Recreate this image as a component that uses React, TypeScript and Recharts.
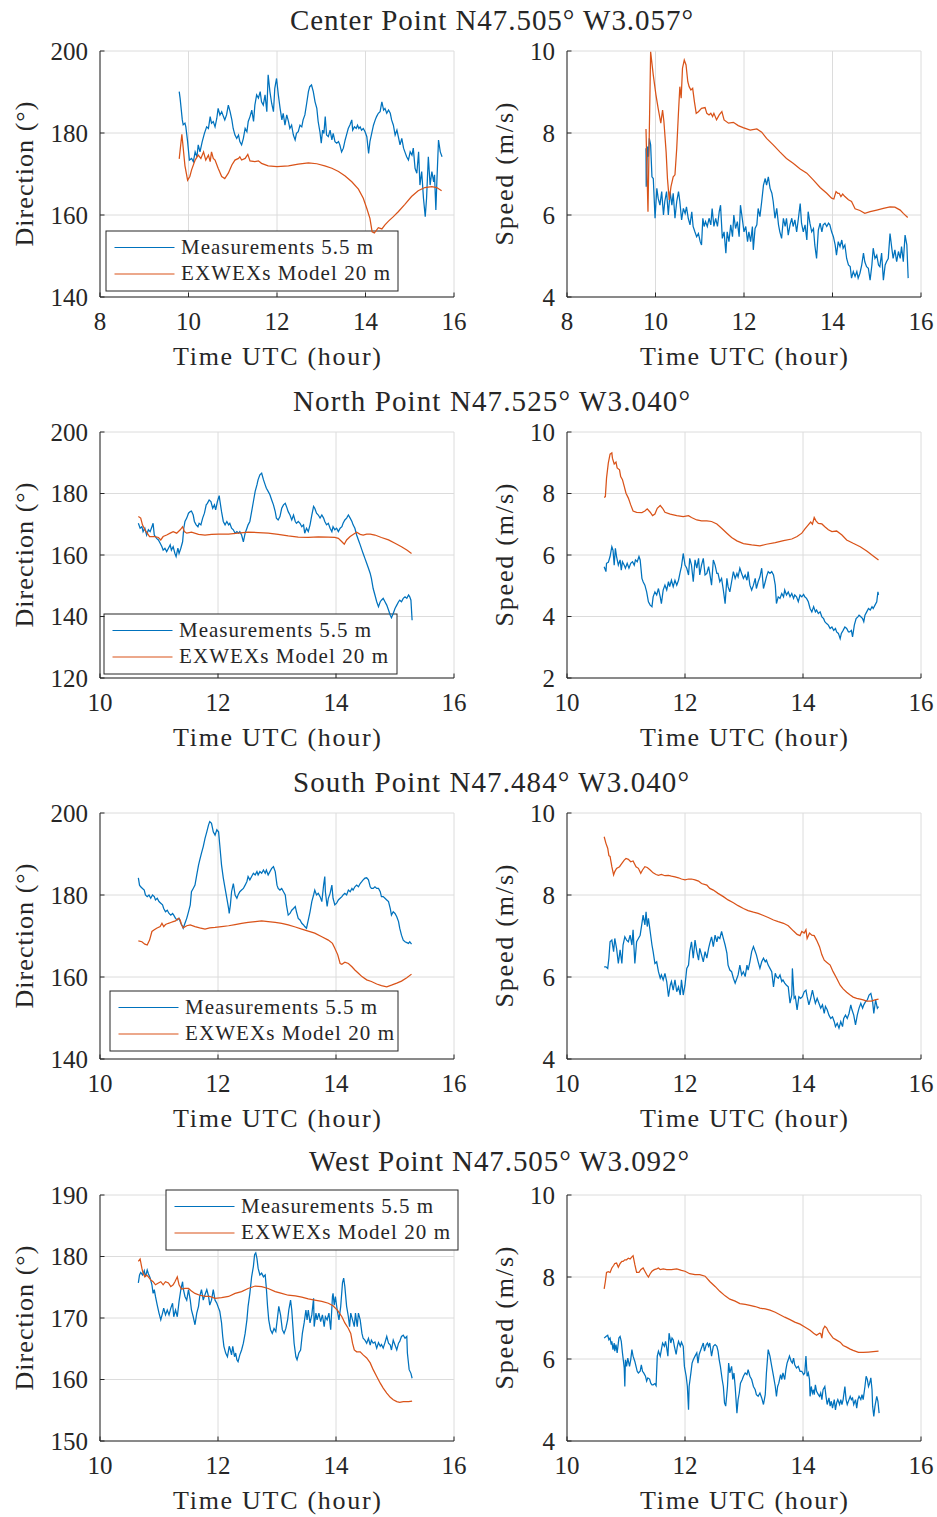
import React from 'react';
import { LineChart, Line, XAxis, YAxis, CartesianGrid, Customized } from 'recharts';

type P = [number, number];

const BLUE = '#0072BD';
const ORANGE = '#D95319';
const INK = '#262626';
const GRID = '#dcdcdc';
const FONT = 'Liberation Serif, DejaVu Serif, serif';

// ---------------- Tick values ----------------
const xTicksCenter = [8, 10, 12, 14, 16];
const xTicksOther = [10, 12, 14, 16];
const dirTicksCenter = [140, 160, 180, 200];
const dirTicksNorth = [120, 140, 160, 180, 200];
const dirTicksSouth = [140, 160, 180, 200];
const dirTicksWest = [150, 160, 170, 180, 190];
const spdTicksCenter = [4, 6, 8, 10];
const spdTicksNorth = [2, 4, 6, 8, 10];
const spdTicksSouth = [4, 6, 8, 10];
const spdTicksWest = [4, 6, 8, 10];

const titles = [
  'Center Point N47.505° W3.057°',
  'North Point N47.525° W3.040°',
  'South Point N47.484° W3.040°',
  'West Point N47.505° W3.092°',
];
const legendLabels = ['Measurements 5.5 m', 'EXWEXs Model 20 m'];
const xLabel = 'Time UTC (hour)';
const dirLabel = 'Direction (°)';
const spdLabel = 'Speed (m/s)';

// ---------------- Center point ----------------
const centerDirMeas: P[] = [[9.79,190.1],[9.81,188.5],[9.86,183.2],[9.88,182.0],[9.92,182.4],[9.94,181.5],[9.98,177.9],[10.02,173.4],[10.07,173.8],[10.11,173.0],[10.15,175.4],[10.19,174.2],[10.22,177.1],[10.26,175.4],[10.31,177.9],[10.36,179.9],[10.41,181.5],[10.45,181.1],[10.49,184.0],[10.52,182.4],[10.56,182.8],[10.60,181.5],[10.64,183.6],[10.67,186.0],[10.71,184.4],[10.75,185.2],[10.79,184.0],[10.82,183.2],[10.86,184.4],[10.90,186.8],[10.94,185.2],[10.98,183.2],[11.01,181.1],[11.05,179.5],[11.09,178.7],[11.13,179.5],[11.16,177.9],[11.20,177.1],[11.24,178.7],[11.28,181.1],[11.32,180.3],[11.35,182.8],[11.39,184.0],[11.43,185.6],[11.47,182.8],[11.50,186.8],[11.54,189.3],[11.58,188.5],[11.62,190.1],[11.65,187.6],[11.69,186.8],[11.73,189.3],[11.77,185.2],[11.80,194.2],[11.84,190.1],[11.88,187.2],[11.92,185.2],[11.95,190.9],[11.99,193.3],[12.03,189.3],[12.07,186.0],[12.11,183.2],[12.14,184.8],[12.18,181.9],[12.22,184.4],[12.26,182.8],[12.29,181.1],[12.33,181.9],[12.37,179.5],[12.41,178.3],[12.44,179.9],[12.48,180.3],[12.52,181.9],[12.56,181.5],[12.59,183.2],[12.63,184.4],[12.67,187.2],[12.71,190.1],[12.74,191.3],[12.78,191.7],[12.82,190.1],[12.86,187.6],[12.90,186.0],[12.93,182.8],[12.97,180.3],[13.00,177.5],[13.03,180.7],[13.06,179.9],[13.09,184.0],[13.12,179.5],[13.16,179.1],[13.20,180.7],[13.24,178.3],[13.27,179.9],[13.31,177.9],[13.35,177.5],[13.39,177.9],[13.42,177.1],[13.46,175.4],[13.50,176.3],[13.54,178.3],[13.57,179.5],[13.61,181.1],[13.65,182.0],[13.69,183.2],[13.71,180.7],[13.75,181.5],[13.79,181.1],[13.82,181.9],[13.85,181.1],[13.88,181.5],[13.91,180.7],[13.95,181.1],[13.99,180.3],[14.03,179.1],[14.07,175.0],[14.10,177.9],[14.14,179.9],[14.18,181.9],[14.22,183.2],[14.25,184.0],[14.29,184.8],[14.33,185.2],[14.37,187.6],[14.41,185.6],[14.44,186.0],[14.48,184.8],[14.52,185.6],[14.56,184.8],[14.59,183.2],[14.63,181.9],[14.67,179.5],[14.71,180.7],[14.75,178.7],[14.78,177.1],[14.82,178.7],[14.86,176.3],[14.89,175.4],[14.93,174.2],[14.97,173.4],[15.01,175.4],[15.05,174.6],[15.08,176.3],[15.12,171.4],[15.16,170.2],[15.20,175.4],[15.23,167.3],[15.27,170.6],[15.31,164.1],[15.35,159.6],[15.38,164.1],[15.42,174.2],[15.46,167.3],[15.50,170.6],[15.54,168.1],[15.56,169.8],[15.59,161.2],[15.61,167.3],[15.65,178.3],[15.69,175.4],[15.73,174.2]];

const centerDirModel: P[] = [[9.79,173.7],[9.85,179.7],[9.92,172.0],[9.98,168.5],[10.03,169.4],[10.07,171.0],[10.15,173.4],[10.22,174.6],[10.28,173.8],[10.34,175.4],[10.39,173.4],[10.45,174.6],[10.49,173.0],[10.52,175.4],[10.56,173.8],[10.60,173.4],[10.67,171.4],[10.75,169.4],[10.82,168.9],[10.90,170.2],[10.98,172.2],[11.05,173.4],[11.13,173.8],[11.16,174.2],[11.20,173.4],[11.28,173.8],[11.34,174.8],[11.39,173.2],[11.50,173.0],[11.58,173.2],[11.65,172.6],[11.80,172.0],[12.00,171.8],[12.26,172.0],[12.48,172.4],[12.71,172.7],[12.90,172.5],[13.08,172.0],[13.24,171.4],[13.39,170.6],[13.54,169.5],[13.69,168.1],[13.84,166.3],[13.95,164.1],[14.03,161.6],[14.10,159.2],[14.15,155.9],[14.20,155.6],[14.29,156.9],[14.37,156.6],[14.44,157.6],[14.52,158.5],[14.63,159.6],[14.74,160.8],[14.89,162.6],[15.04,164.5],[15.19,165.9],[15.34,166.7],[15.50,166.9],[15.61,166.7],[15.72,165.9]];

const centerSpdMeas: P[] = [[9.785,7.63],[9.79,6.69],[9.82,7.67],[9.84,7.42],[9.86,7.87],[9.89,7.71],[9.92,6.93],[9.95,6.89],[9.99,5.92],[10.03,6.65],[10.06,6.41],[10.10,6.24],[10.14,6.57],[10.18,6.00],[10.21,6.33],[10.25,6.57],[10.29,6.00],[10.33,6.57],[10.37,6.24],[10.40,6.53],[10.44,5.92],[10.48,6.33],[10.52,6.57],[10.55,6.33],[10.59,5.88],[10.63,6.16],[10.67,6.04],[10.70,6.20],[10.74,5.92],[10.78,5.76],[10.82,6.08],[10.85,5.72],[10.89,5.59],[10.93,5.47],[10.97,5.55],[11.01,5.35],[11.04,5.27],[11.07,5.92],[11.10,5.72],[11.13,5.84],[11.17,5.72],[11.21,5.92],[11.25,5.76],[11.28,6.16],[11.32,5.72],[11.36,5.92],[11.40,5.72],[11.44,6.08],[11.47,6.24],[11.51,5.43],[11.55,5.59],[11.59,5.07],[11.62,5.59],[11.66,5.35],[11.70,5.76],[11.74,5.47],[11.77,6.00],[11.81,5.67],[11.85,5.84],[11.89,5.47],[11.92,6.24],[11.96,5.92],[12.00,5.59],[12.04,5.72],[12.08,5.35],[12.11,5.59],[12.15,5.35],[12.19,5.72],[12.21,5.15],[12.25,5.67],[12.29,5.76],[12.32,6.16],[12.36,5.96],[12.40,6.33],[12.44,6.73],[12.48,6.89],[12.51,6.73],[12.55,6.93],[12.59,6.65],[12.63,6.53],[12.66,6.33],[12.70,5.92],[12.74,6.16],[12.78,5.76],[12.81,5.59],[12.85,5.43],[12.89,5.92],[12.93,5.72],[12.96,5.92],[13.00,5.51],[13.04,5.76],[13.08,5.92],[13.11,5.72],[13.15,5.88],[13.19,5.59],[13.23,5.92],[13.27,6.28],[13.30,5.80],[13.34,5.59],[13.38,5.76],[13.42,5.39],[13.45,6.08],[13.49,5.80],[13.53,5.59],[13.57,5.67],[13.60,5.27],[13.64,4.94],[13.68,5.63],[13.72,5.80],[13.76,5.59],[13.79,5.76],[13.83,5.80],[13.87,5.72],[13.91,5.80],[13.94,5.76],[13.98,5.59],[14.02,5.47],[14.06,5.27],[14.09,5.02],[14.13,5.35],[14.17,5.23],[14.21,5.39],[14.24,5.19],[14.28,5.27],[14.32,4.94],[14.36,4.78],[14.40,4.74],[14.43,4.46],[14.47,4.62],[14.51,4.50],[14.55,4.62],[14.58,4.46],[14.62,4.58],[14.66,4.78],[14.70,5.07],[14.73,4.86],[14.77,4.74],[14.81,4.70],[14.85,4.41],[14.89,4.78],[14.92,5.19],[14.96,4.94],[15.00,5.02],[15.04,4.78],[15.07,4.74],[15.11,5.07],[15.15,4.41],[15.19,4.78],[15.22,4.86],[15.26,4.94],[15.30,5.55],[15.34,5.19],[15.37,4.94],[15.41,5.15],[15.45,4.86],[15.49,5.11],[15.53,4.94],[15.56,5.23],[15.60,4.86],[15.64,5.51],[15.68,5.27],[15.71,4.46]];

const centerSpdModel: P[] = [[9.785,8.10],[9.83,6.08],[9.89,9.98],[9.95,9.41],[10.01,8.93],[10.06,8.60],[10.12,8.24],[10.16,8.56],[10.19,8.28],[10.24,7.54],[10.27,6.89],[10.31,6.37],[10.35,6.69],[10.40,6.93],[10.44,6.98],[10.48,7.63],[10.52,8.52],[10.55,9.13],[10.58,8.85],[10.61,9.58],[10.65,9.78],[10.69,9.66],[10.73,9.25],[10.76,9.13],[10.80,9.05],[10.84,9.09],[10.88,8.76],[10.92,8.48],[10.97,8.52],[11.04,8.60],[11.12,8.62],[11.16,8.48],[11.21,8.44],[11.25,8.48],[11.29,8.40],[11.32,8.48],[11.38,8.32],[11.44,8.44],[11.50,8.52],[11.55,8.32],[11.65,8.24],[11.76,8.26],[11.87,8.18],[11.98,8.13],[12.14,8.07],[12.29,8.10],[12.40,8.02],[12.51,7.87],[12.66,7.71],[12.81,7.54],[12.96,7.38],[13.11,7.26],[13.27,7.12],[13.42,7.02],[13.57,6.85],[13.72,6.67],[13.87,6.53],[13.98,6.41],[14.03,6.39],[14.08,6.57],[14.12,6.53],[14.15,6.53],[14.19,6.45],[14.23,6.51],[14.28,6.45],[14.36,6.37],[14.43,6.33],[14.51,6.15],[14.62,6.11],[14.73,6.04],[14.85,6.08],[15.00,6.12],[15.15,6.16],[15.30,6.20],[15.41,6.19],[15.53,6.12],[15.60,6.04],[15.70,5.94]];

// ---------------- North point ----------------
const northDirMeas: P[] = [[10.65,170.3],[10.68,168.7],[10.71,169.2],[10.73,167.6],[10.76,168.7],[10.79,166.5],[10.82,168.2],[10.85,167.6],[10.88,169.2],[10.90,170.3],[10.92,166.5],[10.96,165.4],[10.99,164.9],[11.02,163.8],[11.05,162.7],[11.07,161.6],[11.10,162.2],[11.13,161.1],[11.16,162.2],[11.19,163.3],[11.21,161.6],[11.24,162.7],[11.27,160.5],[11.29,159.5],[11.32,162.2],[11.34,160.5],[11.37,162.2],[11.40,164.3],[11.42,168.7],[11.44,170.9],[11.47,172.0],[11.50,173.6],[11.53,174.1],[11.55,174.3],[11.58,173.0],[11.60,170.9],[11.63,169.8],[11.66,169.2],[11.68,170.3],[11.71,169.8],[11.74,172.0],[11.77,173.6],[11.80,176.3],[11.82,176.8],[11.85,177.9],[11.88,177.4],[11.91,175.2],[11.94,176.3],[11.96,174.7],[11.99,177.4],[12.02,179.3],[12.03,177.9],[12.06,174.1],[12.09,170.9],[12.12,169.8],[12.15,170.9],[12.18,169.8],[12.20,170.3],[12.23,168.7],[12.26,168.2],[12.29,167.1],[12.32,167.6],[12.35,167.1],[12.37,167.6],[12.40,166.5],[12.43,164.3],[12.46,167.1],[12.49,168.7],[12.51,169.8],[12.54,170.9],[12.57,174.1],[12.60,177.4],[12.63,180.7],[12.66,182.8],[12.68,184.5],[12.71,186.1],[12.74,186.6],[12.77,184.5],[12.80,182.8],[12.82,181.7],[12.85,180.7],[12.88,179.6],[12.91,177.9],[12.94,176.3],[12.97,174.1],[12.99,172.0],[13.02,171.4],[13.05,172.5],[13.08,175.2],[13.11,176.3],[13.14,176.8],[13.16,175.8],[13.19,174.1],[13.22,173.0],[13.25,171.4],[13.28,173.0],[13.31,170.9],[13.33,170.3],[13.36,170.9],[13.39,170.3],[13.42,169.2],[13.45,169.8],[13.47,167.1],[13.50,168.7],[13.53,167.6],[13.56,169.8],[13.59,173.0],[13.62,175.8],[13.64,175.2],[13.67,173.6],[13.70,173.0],[13.73,172.0],[13.76,173.0],[13.79,172.0],[13.81,170.9],[13.84,169.8],[13.87,170.3],[13.90,168.7],[13.93,167.6],[13.95,169.2],[13.98,168.2],[14.01,168.7],[14.04,167.6],[14.07,168.7],[14.10,169.2],[14.12,170.3],[14.15,171.4],[14.18,172.0],[14.21,173.0],[14.24,172.0],[14.27,170.9],[14.29,169.8],[14.32,168.7],[14.35,166.5],[14.38,164.9],[14.41,163.3],[14.44,161.6],[14.46,160.5],[14.49,158.9],[14.52,157.3],[14.55,155.7],[14.58,154.0],[14.60,152.4],[14.63,149.1],[14.66,147.0],[14.69,144.8],[14.72,143.2],[14.75,144.8],[14.77,145.3],[14.80,145.9],[14.83,144.8],[14.86,143.7],[14.89,142.1],[14.92,140.4],[14.94,139.6],[14.97,141.0],[15.00,142.6],[15.03,143.7],[15.06,144.8],[15.08,145.3],[15.11,144.8],[15.14,145.9],[15.17,146.4],[15.20,145.9],[15.23,147.0],[15.25,146.4],[15.27,145.3],[15.29,138.8]];

const northDirModel: P[] = [[10.65,172.5],[10.69,172.0],[10.72,169.8],[10.76,168.2],[10.80,167.1],[10.84,166.0],[10.88,166.0],[10.93,166.0],[10.99,165.7],[11.03,164.9],[11.07,166.0],[11.13,166.5],[11.19,167.1],[11.24,167.6],[11.30,167.1],[11.36,168.2],[11.40,169.2],[11.43,167.6],[11.47,167.1],[11.55,167.4],[11.67,166.7],[11.78,166.5],[11.89,166.7],[12.01,166.8],[12.18,166.8],[12.34,167.1],[12.51,167.4],[12.68,167.3],[12.85,167.1],[13.02,166.7],[13.19,166.2],[13.36,165.8],[13.53,165.7],[13.70,165.9],[13.87,165.8],[13.98,165.7],[14.04,165.4],[14.10,164.3],[14.14,163.5],[14.18,164.9],[14.24,166.0],[14.29,166.7],[14.35,167.4],[14.41,166.7],[14.46,166.5],[14.52,166.8],[14.58,166.8],[14.66,166.5],[14.77,165.7],[14.89,164.9],[15.00,163.8],[15.11,162.7],[15.20,161.6],[15.28,160.5]];

const northSpdMeas: P[] = [[10.63,5.62],[10.66,5.46],[10.67,5.73],[10.70,5.76],[10.73,5.95],[10.76,6.27],[10.78,6.16],[10.80,5.67],[10.82,6.22],[10.84,5.95],[10.87,5.67],[10.90,5.84],[10.92,5.51],[10.94,5.78],[10.97,5.67],[10.99,5.57],[11.02,5.73],[11.05,5.57],[11.08,5.73],[11.11,5.78],[11.14,5.67],[11.16,5.84],[11.19,5.78],[11.22,5.95],[11.24,5.84],[11.27,5.24],[11.29,5.13],[11.32,5.02],[11.35,4.80],[11.38,4.48],[11.41,4.37],[11.44,4.32],[11.46,4.64],[11.49,4.80],[11.52,4.70],[11.55,4.91],[11.58,4.64],[11.60,4.42],[11.63,4.86],[11.66,5.02],[11.69,4.86],[11.72,5.13],[11.74,4.97],[11.77,5.18],[11.80,4.97],[11.83,5.18],[11.86,5.02],[11.89,5.18],[11.92,5.46],[11.94,5.62],[11.97,6.05],[12.00,5.67],[12.03,5.57],[12.06,5.35],[12.08,5.89],[12.11,5.67],[12.14,5.13],[12.17,5.84],[12.20,5.57],[12.23,5.89],[12.25,5.35],[12.28,5.67],[12.31,5.89],[12.34,5.35],[12.37,5.40],[12.40,5.62],[12.42,5.40],[12.45,5.02],[12.48,5.84],[12.51,5.67],[12.54,5.40],[12.56,5.40],[12.59,5.13],[12.62,5.24],[12.65,4.86],[12.68,4.42],[12.71,5.24],[12.73,4.97],[12.76,4.80],[12.79,5.13],[12.82,5.46],[12.85,5.24],[12.88,5.40],[12.90,5.29],[12.93,5.57],[12.96,5.40],[12.99,5.24],[13.02,5.35],[13.05,5.18],[13.07,5.46],[13.10,5.02],[13.13,4.86],[13.16,5.02],[13.19,5.24],[13.21,4.91],[13.24,5.13],[13.27,5.29],[13.30,5.57],[13.33,4.91],[13.36,5.13],[13.38,5.29],[13.41,5.46],[13.44,5.40],[13.47,5.46],[13.50,5.35],[13.53,5.02],[13.55,4.42],[13.58,4.64],[13.61,4.59],[13.64,4.75],[13.67,4.64],[13.69,4.86],[13.72,4.70],[13.75,4.80],[13.78,4.64],[13.81,4.75],[13.84,4.59],[13.86,4.70],[13.89,4.64],[13.92,4.48],[13.95,4.70],[13.98,4.64],[14.01,4.72],[14.03,4.64],[14.06,4.59],[14.09,4.48],[14.12,4.26],[14.15,4.15],[14.18,4.32],[14.21,4.15],[14.23,4.21],[14.26,4.10],[14.29,4.15],[14.32,3.99],[14.35,3.93],[14.37,3.83],[14.40,3.77],[14.43,3.72],[14.46,3.61],[14.49,3.66],[14.52,3.55],[14.55,3.61],[14.57,3.50],[14.60,3.45],[14.63,3.28],[14.65,3.45],[14.68,3.55],[14.71,3.66],[14.74,3.61],[14.77,3.50],[14.79,3.50],[14.82,3.55],[14.84,3.34],[14.87,3.72],[14.90,3.93],[14.93,3.99],[14.95,4.04],[14.98,3.99],[15.01,3.93],[15.03,3.83],[15.05,4.04],[15.08,4.15],[15.11,4.26],[15.14,4.21],[15.17,4.32],[15.19,4.26],[15.22,4.37],[15.25,4.48],[15.27,4.80],[15.28,4.70]];

const northSpdModel: P[] = [[10.63,7.87],[10.65,7.90],[10.67,8.50],[10.70,8.99],[10.73,9.28],[10.76,9.32],[10.77,9.15],[10.80,8.96],[10.83,9.02],[10.85,8.83],[10.89,8.77],[10.91,8.55],[10.94,8.45],[10.97,8.23],[11.00,8.01],[11.04,7.85],[11.08,7.63],[11.12,7.43],[11.18,7.39],[11.27,7.38],[11.32,7.43],[11.36,7.50],[11.41,7.39],[11.45,7.28],[11.49,7.33],[11.53,7.52],[11.58,7.61],[11.62,7.52],[11.66,7.39],[11.75,7.33],[11.86,7.28],[11.97,7.25],[12.06,7.28],[12.11,7.22],[12.20,7.14],[12.28,7.11],[12.37,7.11],[12.45,7.09],[12.54,7.01],[12.62,6.87],[12.71,6.71],[12.79,6.57],[12.88,6.46],[12.99,6.37],[13.13,6.33],[13.27,6.30],[13.38,6.35],[13.53,6.40],[13.67,6.47],[13.81,6.52],[13.90,6.60],[13.98,6.71],[14.03,6.84],[14.09,6.98],[14.13,7.07],[14.16,7.00],[14.19,7.22],[14.22,7.11],[14.26,7.03],[14.32,7.01],[14.37,6.92],[14.43,6.82],[14.49,6.76],[14.57,6.78],[14.66,6.65],[14.74,6.49],[14.85,6.38],[14.97,6.27],[15.08,6.13],[15.19,5.97],[15.28,5.84]];

// ---------------- South point ----------------
const southDirMeas: P[] = [[10.65,184.2],[10.67,182.4],[10.69,182.0],[10.72,181.6],[10.75,181.2],[10.77,180.0],[10.80,179.6],[10.83,180.0],[10.86,179.2],[10.89,180.0],[10.92,179.6],[10.94,178.8],[10.97,179.2],[11.00,178.4],[11.03,178.0],[11.06,177.6],[11.08,176.7],[11.11,175.9],[11.14,176.3],[11.17,175.5],[11.20,175.1],[11.23,175.5],[11.25,175.1],[11.28,174.3],[11.31,173.9],[11.34,174.3],[11.37,173.1],[11.40,172.3],[11.41,171.9],[11.44,173.1],[11.47,174.3],[11.50,175.9],[11.53,177.6],[11.55,180.8],[11.58,181.6],[11.61,182.4],[11.64,184.9],[11.67,187.3],[11.69,188.5],[11.72,190.2],[11.75,191.8],[11.78,193.8],[11.81,195.4],[11.84,197.1],[11.86,197.9],[11.89,197.5],[11.92,195.4],[11.95,194.6],[11.98,195.9],[12.01,195.4],[12.03,192.2],[12.06,187.3],[12.09,184.1],[12.12,181.6],[12.15,179.2],[12.18,176.7],[12.19,175.5],[12.21,177.6],[12.23,180.8],[12.26,182.8],[12.29,180.0],[12.32,179.2],[12.34,180.0],[12.37,180.8],[12.40,181.2],[12.43,181.6],[12.46,182.4],[12.49,183.3],[12.51,184.5],[12.54,183.7],[12.57,184.5],[12.60,185.3],[12.63,184.9],[12.66,185.7],[12.68,184.9],[12.71,185.7],[12.74,185.3],[12.77,186.1],[12.80,185.3],[12.82,186.1],[12.85,184.9],[12.88,185.7],[12.91,186.5],[12.94,186.9],[12.97,185.7],[13.00,182.4],[13.02,181.6],[13.05,181.2],[13.08,181.6],[13.11,180.8],[13.14,180.0],[13.16,177.6],[13.19,175.1],[13.22,175.5],[13.25,176.3],[13.28,176.7],[13.31,177.2],[13.33,175.9],[13.36,174.3],[13.39,173.9],[13.42,173.1],[13.45,172.7],[13.47,172.3],[13.50,171.9],[13.53,173.9],[13.56,175.9],[13.59,178.4],[13.62,180.0],[13.64,181.2],[13.67,180.0],[13.70,180.4],[13.73,179.6],[13.76,178.4],[13.79,182.4],[13.81,184.5],[13.82,180.8],[13.85,177.2],[13.87,179.2],[13.90,180.4],[13.93,182.4],[13.95,179.2],[13.98,177.6],[14.01,178.0],[14.04,178.8],[14.07,179.2],[14.10,179.6],[14.12,180.0],[14.15,180.4],[14.18,180.0],[14.21,181.2],[14.24,180.8],[14.27,181.6],[14.29,181.2],[14.32,182.0],[14.35,182.4],[14.38,182.0],[14.41,182.8],[14.44,183.3],[14.46,183.7],[14.49,184.1],[14.52,184.2],[14.55,183.7],[14.58,182.0],[14.60,181.6],[14.63,181.6],[14.66,182.0],[14.69,181.6],[14.72,181.6],[14.75,180.8],[14.77,179.6],[14.80,179.6],[14.83,179.2],[14.86,178.8],[14.89,178.4],[14.92,176.7],[14.94,175.1],[14.97,175.9],[15.00,175.5],[15.03,174.7],[15.06,173.5],[15.08,171.9],[15.11,170.2],[15.14,169.0],[15.17,168.6],[15.20,168.4],[15.23,168.2],[15.25,168.6],[15.28,168.0]];

const southDirModel: P[] = [[10.65,168.8],[10.71,168.6],[10.76,168.0],[10.80,167.8],[10.84,169.0],[10.88,171.1],[10.92,171.5],[10.96,171.9],[11.02,172.3],[11.05,173.1],[11.08,172.3],[11.11,172.8],[11.16,173.1],[11.20,173.3],[11.24,173.5],[11.28,173.7],[11.33,174.3],[11.36,173.9],[11.38,172.8],[11.41,172.0],[11.47,172.5],[11.53,172.7],[11.61,172.3],[11.69,172.0],[11.78,171.7],[11.86,172.0],[11.95,172.1],[12.06,172.3],[12.18,172.5],[12.29,172.8],[12.40,173.1],[12.51,173.3],[12.63,173.5],[12.74,173.7],[12.85,173.5],[12.97,173.3],[13.08,173.1],[13.19,172.7],[13.31,172.2],[13.42,171.7],[13.53,171.2],[13.64,170.7],[13.76,169.8],[13.87,169.0],[13.94,168.2],[13.98,167.0],[14.03,165.4],[14.07,163.3],[14.10,163.1],[14.15,163.6],[14.21,163.3],[14.27,162.5],[14.32,161.7],[14.38,160.9],[14.44,160.1],[14.52,159.3],[14.60,158.9],[14.69,158.3],[14.77,157.9],[14.86,157.6],[14.94,158.0],[15.03,158.5],[15.11,159.0],[15.20,159.8],[15.28,160.7]];

const southSpdMeas: P[] = [[10.63,6.25],[10.66,6.25],[10.69,6.21],[10.71,6.46],[10.73,6.86],[10.76,6.90],[10.79,6.62],[10.81,6.94],[10.84,6.70],[10.87,6.33],[10.90,6.66],[10.93,6.33],[10.95,6.78],[10.98,6.98],[11.01,6.90],[11.04,6.86],[11.07,7.02],[11.10,6.78],[11.12,7.15],[11.15,6.33],[11.18,6.86],[11.21,6.94],[11.24,7.02],[11.27,7.31],[11.29,7.51],[11.32,7.27],[11.34,7.59],[11.36,7.23],[11.38,7.43],[11.41,7.11],[11.44,6.78],[11.46,6.62],[11.49,6.33],[11.52,6.37],[11.55,6.13],[11.58,5.97],[11.60,6.05],[11.63,5.93],[11.66,6.09],[11.69,5.89],[11.72,5.52],[11.75,5.80],[11.77,5.89],[11.80,5.68],[11.83,5.93],[11.86,5.64],[11.89,5.76],[11.92,5.56],[11.94,5.93],[11.97,5.56],[12.00,5.80],[12.03,6.21],[12.06,6.29],[12.08,6.62],[12.11,6.86],[12.14,6.46],[12.17,6.90],[12.20,6.62],[12.23,6.41],[12.25,6.70],[12.28,6.54],[12.31,6.37],[12.34,6.62],[12.37,6.46],[12.40,6.70],[12.42,6.82],[12.45,6.98],[12.48,6.74],[12.51,7.02],[12.54,6.86],[12.56,6.98],[12.59,6.94],[12.62,7.11],[12.65,6.94],[12.68,6.78],[12.71,6.58],[12.73,6.29],[12.76,6.17],[12.79,6.13],[12.82,5.97],[12.85,5.85],[12.88,5.97],[12.90,6.05],[12.93,6.29],[12.96,6.05],[12.99,6.13],[13.02,6.01],[13.05,6.29],[13.07,6.17],[13.10,6.37],[13.13,6.62],[13.16,6.74],[13.19,6.62],[13.21,6.54],[13.24,6.37],[13.27,6.21],[13.30,6.37],[13.33,6.46],[13.36,6.37],[13.38,6.41],[13.41,6.29],[13.44,6.21],[13.47,6.13],[13.50,5.76],[13.53,6.09],[13.55,6.01],[13.58,5.97],[13.61,6.05],[13.64,5.89],[13.66,5.93],[13.69,5.85],[13.72,5.80],[13.75,5.76],[13.78,5.36],[13.81,5.56],[13.82,6.21],[13.85,5.48],[13.87,5.52],[13.90,5.20],[13.93,5.52],[13.96,5.48],[13.99,5.52],[14.02,5.64],[14.05,5.68],[14.07,5.52],[14.10,5.32],[14.13,5.48],[14.16,5.68],[14.19,5.48],[14.21,5.36],[14.24,5.48],[14.27,5.36],[14.30,5.24],[14.33,5.32],[14.36,5.11],[14.38,5.28],[14.41,5.20],[14.44,5.07],[14.47,4.99],[14.50,5.03],[14.53,4.91],[14.55,4.79],[14.58,4.87],[14.61,4.75],[14.64,4.91],[14.67,4.79],[14.69,4.99],[14.72,5.07],[14.75,4.99],[14.78,5.11],[14.81,5.32],[14.83,5.20],[14.86,5.07],[14.89,4.83],[14.92,5.07],[14.95,5.24],[14.98,5.36],[15.01,5.24],[15.03,5.32],[15.06,5.40],[15.09,5.44],[15.12,5.56],[15.15,5.60],[15.18,5.40],[15.20,5.11],[15.23,5.44],[15.26,5.24],[15.28,5.28]];

const southSpdModel: P[] = [[10.63,9.42],[10.66,9.26],[10.69,9.14],[10.71,8.96],[10.73,8.94],[10.76,8.69],[10.79,8.49],[10.81,8.57],[10.84,8.65],[10.89,8.69],[10.93,8.77],[10.97,8.85],[11.00,8.89],[11.04,8.87],[11.08,8.81],[11.12,8.83],[11.17,8.69],[11.21,8.65],[11.25,8.53],[11.28,8.61],[11.32,8.69],[11.36,8.67],[11.41,8.61],[11.46,8.54],[11.51,8.50],[11.55,8.48],[11.60,8.50],[11.66,8.47],[11.72,8.48],[11.77,8.46],[11.83,8.44],[11.89,8.42],[11.94,8.39],[12.00,8.37],[12.06,8.39],[12.11,8.39],[12.17,8.37],[12.23,8.34],[12.28,8.28],[12.37,8.24],[12.42,8.16],[12.48,8.12],[12.56,8.04],[12.65,7.96],[12.73,7.88],[12.82,7.81],[12.90,7.74],[12.99,7.67],[13.07,7.62],[13.16,7.58],[13.24,7.55],[13.33,7.50],[13.41,7.45],[13.50,7.39],[13.58,7.35],[13.67,7.31],[13.75,7.25],[13.84,7.12],[13.90,7.04],[13.95,7.01],[13.98,7.11],[14.02,7.07],[14.05,7.15],[14.07,6.94],[14.11,7.07],[14.15,7.02],[14.19,7.01],[14.23,6.90],[14.28,6.74],[14.32,6.54],[14.36,6.41],[14.40,6.36],[14.46,6.29],[14.51,6.13],[14.57,5.97],[14.63,5.80],[14.68,5.71],[14.74,5.63],[14.80,5.56],[14.85,5.51],[14.91,5.48],[14.97,5.46],[15.02,5.44],[15.08,5.41],[15.16,5.41],[15.22,5.44],[15.28,5.46]];

// ---------------- West point ----------------
const westDirMeas: P[] = [[10.65,175.7],[10.67,177.0],[10.69,177.4],[10.72,177.0],[10.75,177.7],[10.77,176.7],[10.80,177.8],[10.82,177.2],[10.85,176.5],[10.88,175.4],[10.90,174.0],[10.92,174.6],[10.94,173.5],[10.97,172.1],[11.00,170.8],[11.03,169.7],[11.06,170.8],[11.08,171.6],[11.11,170.5],[11.14,171.3],[11.17,170.5],[11.20,171.6],[11.23,172.4],[11.25,170.2],[11.28,171.3],[11.31,170.2],[11.34,172.7],[11.37,174.6],[11.40,175.9],[11.41,174.8],[11.44,173.5],[11.47,172.9],[11.50,174.6],[11.53,172.9],[11.55,171.3],[11.58,170.2],[11.61,168.9],[11.64,170.8],[11.67,171.9],[11.69,173.5],[11.72,174.6],[11.75,172.9],[11.78,173.8],[11.81,174.6],[11.84,173.5],[11.86,172.1],[11.89,172.9],[11.92,174.6],[11.95,172.9],[11.98,172.4],[12.01,171.6],[12.03,171.1],[12.06,169.2],[12.08,167.0],[12.10,165.4],[12.13,164.3],[12.16,163.7],[12.19,165.4],[12.21,164.8],[12.23,164.0],[12.25,165.4],[12.28,163.7],[12.30,164.3],[12.32,163.2],[12.34,162.9],[12.37,164.0],[12.40,164.8],[12.43,165.9],[12.46,167.5],[12.49,169.7],[12.51,171.9],[12.54,174.0],[12.57,176.7],[12.60,178.4],[12.62,180.3],[12.64,180.6],[12.66,179.7],[12.68,178.1],[12.71,177.0],[12.74,177.3],[12.77,176.7],[12.80,177.0],[12.82,174.8],[12.84,171.9],[12.86,169.7],[12.89,168.1],[12.92,167.5],[12.95,168.3],[12.98,167.8],[13.01,170.2],[13.03,171.9],[13.06,170.5],[13.09,168.1],[13.12,167.5],[13.15,168.3],[13.18,169.7],[13.20,171.3],[13.23,172.9],[13.25,171.3],[13.27,168.6],[13.29,165.9],[13.32,163.7],[13.34,163.2],[13.37,164.3],[13.40,164.8],[13.43,167.5],[13.46,169.2],[13.49,171.3],[13.51,169.7],[13.53,171.3],[13.56,169.2],[13.59,170.5],[13.62,173.2],[13.63,168.6],[13.66,170.8],[13.68,169.7],[13.71,170.8],[13.74,169.4],[13.77,170.5],[13.80,168.6],[13.82,170.2],[13.85,169.7],[13.88,170.8],[13.91,168.1],[13.94,173.5],[13.95,174.0],[13.97,172.1],[13.99,173.5],[14.02,171.3],[14.05,169.7],[14.08,171.9],[14.11,175.7],[14.13,176.5],[14.15,175.1],[14.16,174.0],[14.18,171.9],[14.21,170.2],[14.23,168.6],[14.25,170.8],[14.28,169.7],[14.31,168.6],[14.33,170.8],[14.36,168.6],[14.38,170.8],[14.41,169.7],[14.44,167.5],[14.46,166.7],[14.49,166.4],[14.52,165.9],[14.55,166.7],[14.58,165.6],[14.60,166.4],[14.63,165.9],[14.66,166.1],[14.69,165.1],[14.72,166.0],[14.75,165.4],[14.77,165.7],[14.80,165.1],[14.83,166.0],[14.86,167.0],[14.89,165.9],[14.92,165.6],[14.94,164.8],[14.97,166.4],[15.00,165.6],[15.03,164.8],[15.06,165.9],[15.08,166.2],[15.11,167.0],[15.14,167.2],[15.17,166.7],[15.20,167.0],[15.21,164.3],[15.24,161.6],[15.27,161.0],[15.29,160.2]];

const westDirModel: P[] = [[10.65,179.2],[10.68,179.6],[10.71,178.1],[10.73,177.3],[10.76,176.7],[10.79,177.0],[10.82,176.7],[10.86,176.2],[10.90,175.9],[10.94,175.4],[10.99,175.7],[11.03,175.9],[11.07,175.4],[11.11,175.9],[11.16,175.7],[11.20,175.1],[11.24,175.4],[11.27,175.9],[11.31,176.7],[11.34,175.4],[11.38,174.7],[11.44,174.8],[11.50,174.8],[11.55,174.4],[11.61,174.0],[11.69,173.7],[11.78,173.5],[11.86,173.5],[11.95,173.2],[12.06,173.3],[12.18,173.5],[12.29,174.0],[12.40,174.3],[12.51,174.8],[12.63,175.2],[12.74,175.1],[12.85,174.8],[12.97,174.3],[13.08,174.0],[13.19,173.7],[13.31,173.6],[13.42,173.4],[13.53,173.1],[13.64,172.9],[13.76,172.7],[13.87,172.4],[13.95,172.0],[14.03,171.2],[14.10,170.2],[14.15,169.2],[14.21,168.3],[14.25,167.5],[14.28,165.9],[14.31,164.8],[14.35,164.5],[14.41,164.5],[14.46,164.0],[14.52,163.5],[14.58,162.7],[14.63,161.6],[14.69,160.5],[14.75,159.4],[14.80,158.6],[14.86,157.8],[14.92,157.1],[14.97,156.7],[15.03,156.4],[15.08,156.3],[15.14,156.4],[15.23,156.4],[15.29,156.5]];

const westSpdMeas: P[] = [[10.63,6.51],[10.66,6.55],[10.69,6.58],[10.71,6.47],[10.73,6.51],[10.75,6.35],[10.76,6.43],[10.78,6.23],[10.80,6.39],[10.81,6.19],[10.83,6.35],[10.85,6.15],[10.88,6.51],[10.90,6.55],[10.92,6.43],[10.94,6.15],[10.97,5.78],[10.98,5.33],[10.99,5.98],[11.01,5.82],[11.03,6.02],[11.06,5.82],[11.08,5.98],[11.10,6.23],[11.12,6.07],[11.15,5.94],[11.17,5.82],[11.19,5.70],[11.21,5.66],[11.24,5.70],[11.26,5.86],[11.28,5.70],[11.30,5.66],[11.33,5.58],[11.35,5.46],[11.37,5.54],[11.40,5.51],[11.42,5.41],[11.44,5.37],[11.46,5.37],[11.49,5.40],[11.51,5.35],[11.53,6.07],[11.55,6.19],[11.58,6.07],[11.60,6.23],[11.62,6.39],[11.65,6.31],[11.67,6.43],[11.69,6.27],[11.71,6.07],[11.73,6.63],[11.76,6.39],[11.78,6.51],[11.80,6.47],[11.82,6.31],[11.85,6.11],[11.87,6.31],[11.89,6.43],[11.92,6.31],[11.94,6.41],[11.97,6.31],[11.99,5.82],[12.02,5.58],[12.04,5.33],[12.06,4.76],[12.07,5.33],[12.10,5.66],[12.12,5.90],[12.14,5.98],[12.17,6.07],[12.20,6.15],[12.22,5.90],[12.24,6.11],[12.27,6.23],[12.29,6.31],[12.31,6.39],[12.33,6.19],[12.36,6.35],[12.38,6.39],[12.40,6.31],[12.42,6.39],[12.45,6.07],[12.48,6.31],[12.51,6.35],[12.54,6.31],[12.56,6.19],[12.58,5.98],[12.60,5.82],[12.63,5.50],[12.65,5.33],[12.67,4.93],[12.69,4.85],[12.72,5.33],[12.74,5.90],[12.76,5.66],[12.79,5.82],[12.81,5.50],[12.83,5.66],[12.85,5.33],[12.88,4.68],[12.90,5.01],[12.92,5.17],[12.94,5.41],[12.97,5.50],[12.99,5.58],[13.02,5.66],[13.05,5.62],[13.07,5.74],[13.10,5.58],[13.13,5.50],[13.16,5.33],[13.19,5.25],[13.21,5.13],[13.24,5.09],[13.27,5.17],[13.30,5.05],[13.33,4.89],[13.36,5.13],[13.38,5.66],[13.41,6.23],[13.44,6.07],[13.47,5.82],[13.50,5.58],[13.53,5.33],[13.55,5.09],[13.57,5.33],[13.59,5.41],[13.62,5.62],[13.64,5.50],[13.66,5.66],[13.69,5.50],[13.71,5.74],[13.73,5.90],[13.75,5.98],[13.77,6.07],[13.80,5.94],[13.82,5.90],[13.84,6.02],[13.86,5.86],[13.89,5.78],[13.92,5.82],[13.95,5.70],[13.98,5.70],[14.01,5.62],[14.03,5.66],[14.05,6.07],[14.07,5.58],[14.09,5.66],[14.11,5.50],[14.12,5.09],[14.14,5.33],[14.16,5.17],[14.18,5.25],[14.19,5.13],[14.21,5.37],[14.23,5.21],[14.26,5.13],[14.28,5.09],[14.30,5.17],[14.32,5.01],[14.34,5.25],[14.37,5.33],[14.39,5.09],[14.41,4.89],[14.44,5.05],[14.46,4.85],[14.48,4.97],[14.50,4.80],[14.53,5.01],[14.55,4.76],[14.57,4.93],[14.59,5.01],[14.62,4.89],[14.64,5.01],[14.66,4.89],[14.68,5.01],[14.71,5.33],[14.73,5.01],[14.75,4.89],[14.78,5.01],[14.80,5.09],[14.82,5.01],[14.84,5.05],[14.86,4.89],[14.89,5.01],[14.91,4.80],[14.93,5.01],[14.95,5.09],[14.98,5.01],[15.00,5.13],[15.02,5.01],[15.05,5.33],[15.07,5.58],[15.09,5.50],[15.11,5.33],[15.13,5.41],[15.15,5.54],[15.17,5.25],[15.18,4.85],[15.20,4.60],[15.22,4.85],[15.24,5.01],[15.25,5.09],[15.27,4.97],[15.29,4.68]];

const westSpdModel: P[] = [[10.63,7.71],[10.65,7.89],[10.67,8.11],[10.70,8.13],[10.73,8.11],[10.76,8.22],[10.79,8.28],[10.81,8.33],[10.84,8.34],[10.87,8.24],[10.90,8.33],[10.93,8.38],[10.95,8.38],[10.98,8.42],[11.01,8.42],[11.04,8.46],[11.07,8.44],[11.10,8.49],[11.12,8.52],[11.15,8.30],[11.18,8.11],[11.22,8.11],[11.25,8.18],[11.29,8.22],[11.32,8.14],[11.35,8.06],[11.38,8.00],[11.41,8.08],[11.44,8.14],[11.48,8.18],[11.52,8.20],[11.55,8.22],[11.58,8.18],[11.63,8.20],[11.69,8.18],[11.77,8.18],[11.86,8.20],[11.94,8.16],[12.00,8.14],[12.08,8.08],[12.17,8.06],[12.25,8.06],[12.34,8.02],[12.42,7.89],[12.51,7.77],[12.59,7.65],[12.68,7.54],[12.76,7.46],[12.85,7.41],[12.93,7.35],[13.02,7.33],[13.10,7.31],[13.19,7.28],[13.27,7.24],[13.36,7.22],[13.44,7.19],[13.53,7.14],[13.61,7.08],[13.69,7.02],[13.78,6.96],[13.86,6.90],[13.95,6.85],[14.03,6.78],[14.12,6.70],[14.18,6.63],[14.23,6.58],[14.28,6.63],[14.30,6.62],[14.32,6.51],[14.34,6.72],[14.37,6.80],[14.40,6.76],[14.43,6.67],[14.47,6.59],[14.51,6.51],[14.57,6.46],[14.63,6.41],[14.68,6.33],[14.74,6.29],[14.80,6.24],[14.85,6.21],[14.94,6.16],[15.02,6.16],[15.11,6.17],[15.19,6.18],[15.28,6.19]];

// ---------------- Layout constants ----------------
const SVG_W = 470;
const PLOT_L = 100;
const PLOT_R = 454;
const PLOT_T = 30;
const PLOT_H = 246;
const PLOT_B = PLOT_T + PLOT_H;
const SVG_H = PLOT_B + 82;

const toData = (arr: P[]) => arr.map(([t, v]) => ({ t, v }));

const XTick = (props: any) => {
  const { x, payload } = props;
  return (
    <g>
      <line x1={x} x2={x} y1={PLOT_B} y2={PLOT_B - 4.5} stroke={INK} strokeWidth={1} />
      <text x={x} y={PLOT_B + 33} textAnchor="middle" fontFamily={FONT} fontSize={25} fill={INK}>
        {payload.value}
      </text>
    </g>
  );
};

const YTick = (props: any) => {
  const { y, payload } = props;
  return (
    <g>
      <line x1={PLOT_L} x2={PLOT_L + 4.5} y1={y} y2={y} stroke={INK} strokeWidth={1} />
      <text x={88} y={y + 8.5} textAnchor="end" fontFamily={FONT} fontSize={25} fill={INK}>
        {payload.value}
      </text>
    </g>
  );
};

type LegendSpec = { x: number; y: number; w: number } | null;

const Decor = ({ yLabel, yLabelX, yLabelLen, legend }: { yLabel: string; yLabelX: number; yLabelLen: number; legend: LegendSpec }) => {
  const cy = PLOT_T + PLOT_H / 2;
  return (
    <g>
      <text
        x={(PLOT_L + PLOT_R) / 2}
        y={PLOT_B + 68}
        textAnchor="middle"
        fontFamily={FONT}
        fontSize={26}
        fill={INK}
        textLength={208}
        lengthAdjust="spacing"
      >
        {xLabel}
      </text>
      <text
        transform={`translate(${yLabelX}, ${cy}) rotate(-90)`}
        x={0}
        y={0}
        textAnchor="middle"
        fontFamily={FONT}
        fontSize={26}
        fill={INK}
        textLength={yLabelLen}
        lengthAdjust="spacing"
      >
        {yLabel}
      </text>
      {legend && (
        <g>
          <rect x={legend.x} y={legend.y} width={legend.w} height={60} fill="#ffffff" stroke={INK} strokeWidth={1} />
          <line x1={legend.x + 8.5} x2={legend.x + 68.5} y1={legend.y + 16.5} y2={legend.y + 16.5} stroke={BLUE} strokeWidth={1.2} />
          <text x={legend.x + 75} y={legend.y + 22.5} fontFamily={FONT} fontSize={21} fill={INK} textLength={192} lengthAdjust="spacing">
            {legendLabels[0]}
          </text>
          <line x1={legend.x + 8.5} x2={legend.x + 68.5} y1={legend.y + 43} y2={legend.y + 43} stroke={ORANGE} strokeWidth={1.2} />
          <text x={legend.x + 75} y={legend.y + 49} fontFamily={FONT} fontSize={21} fill={INK} textLength={209} lengthAdjust="spacing">
            {legendLabels[1]}
          </text>
        </g>
      )}
    </g>
  );
};

type PanelProps = {
  left: number;
  plotTop: number;
  meas: P[];
  model: P[];
  xDomain: [number, number];
  xTicks: number[];
  yDomain: [number, number];
  yTicks: number[];
  yLabel: string;
  yLabelX: number;
  yLabelLen: number;
  legend: { x: number; top: number; w: number } | null;
};

const Panel = (p: PanelProps) => {
  const svgTop = p.plotTop - PLOT_T;
  const legend: LegendSpec = p.legend ? { x: p.legend.x, y: p.legend.top - svgTop, w: p.legend.w } : null;
  return (
    <div style={{ position: 'absolute', left: p.left, top: svgTop, width: SVG_W, height: SVG_H }}>
      <LineChart
        width={SVG_W}
        height={SVG_H}
        margin={{ top: PLOT_T, right: SVG_W - PLOT_R, bottom: 0, left: 0 }}
      >
        <CartesianGrid stroke={GRID} strokeWidth={1} />
        <XAxis
          type="number"
          dataKey="t"
          domain={p.xDomain}
          ticks={p.xTicks}
          interval={0}
          allowDataOverflow
          height={SVG_H - PLOT_B}
          axisLine={{ stroke: INK, strokeWidth: 1 }}
          tickLine={false}
          tick={XTick}
        />
        <YAxis
          type="number"
          domain={p.yDomain}
          ticks={p.yTicks}
          interval={0}
          allowDataOverflow
          width={PLOT_L}
          axisLine={{ stroke: INK, strokeWidth: 1 }}
          tickLine={false}
          tick={YTick}
        />
        <Line data={toData(p.meas)} dataKey="v" type="linear" stroke={BLUE} strokeWidth={1.25} dot={false} activeDot={false} isAnimationActive={false} />
        <Line data={toData(p.model)} dataKey="v" type="linear" stroke={ORANGE} strokeWidth={1.25} dot={false} activeDot={false} isAnimationActive={false} />
        <Customized component={<Decor yLabel={p.yLabel} yLabelX={p.yLabelX} yLabelLen={p.yLabelLen} legend={legend} />} />
      </LineChart>
    </div>
  );
};

const plotTops = [51, 432, 813, 1195];
const titleBaselines = [29.5, 410.5, 791.5, 1171];
const titleCenters = [491.5, 491.5, 491, 499];
const titleWidths = [403, 397, 396, 380];

export default function App() {
  const col0 = 0;
  const col1 = 467;
  return (
    <div style={{ position: 'absolute', left: 0, top: 0, width: 937, height: 1517, background: '#ffffff' }}>
      <svg width={937} height={1517} style={{ position: 'absolute', left: 0, top: 0, pointerEvents: 'none' }}>
        {titles.map((t, i) => (
          <text
            key={t}
            x={titleCenters[i]}
            y={titleBaselines[i]}
            textAnchor="middle"
            fontFamily={FONT}
            fontSize={29}
            fill={INK}
            textLength={titleWidths[i]}
            lengthAdjust="spacing"
          >
            {t}
          </text>
        ))}
      </svg>

      <Panel left={col0} plotTop={plotTops[0]} meas={centerDirMeas} model={centerDirModel} xDomain={[8, 16]} xTicks={xTicksCenter}
        yDomain={[140, 200]} yTicks={dirTicksCenter} yLabel={dirLabel} yLabelX={33} yLabelLen={145}
        legend={{ x: 106, top: 231, w: 292 }} />
      <Panel left={col1} plotTop={plotTops[0]} meas={centerSpdMeas} model={centerSpdModel} xDomain={[8, 16]} xTicks={xTicksCenter}
        yDomain={[4, 10]} yTicks={spdTicksCenter} yLabel={spdLabel} yLabelX={46} yLabelLen={143} legend={null} />

      <Panel left={col0} plotTop={plotTops[1]} meas={northDirMeas} model={northDirModel} xDomain={[10, 16]} xTicks={xTicksOther}
        yDomain={[120, 200]} yTicks={dirTicksNorth} yLabel={dirLabel} yLabelX={33} yLabelLen={145}
        legend={{ x: 104, top: 614, w: 293 }} />
      <Panel left={col1} plotTop={plotTops[1]} meas={northSpdMeas} model={northSpdModel} xDomain={[10, 16]} xTicks={xTicksOther}
        yDomain={[2, 10]} yTicks={spdTicksNorth} yLabel={spdLabel} yLabelX={46} yLabelLen={143} legend={null} />

      <Panel left={col0} plotTop={plotTops[2]} meas={southDirMeas} model={southDirModel} xDomain={[10, 16]} xTicks={xTicksOther}
        yDomain={[140, 200]} yTicks={dirTicksSouth} yLabel={dirLabel} yLabelX={33} yLabelLen={145}
        legend={{ x: 110, top: 991, w: 288 }} />
      <Panel left={col1} plotTop={plotTops[2]} meas={southSpdMeas} model={southSpdModel} xDomain={[10, 16]} xTicks={xTicksOther}
        yDomain={[4, 10]} yTicks={spdTicksSouth} yLabel={spdLabel} yLabelX={46} yLabelLen={143} legend={null} />

      <Panel left={col0} plotTop={plotTops[3]} meas={westDirMeas} model={westDirModel} xDomain={[10, 16]} xTicks={xTicksOther}
        yDomain={[150, 190]} yTicks={dirTicksWest} yLabel={dirLabel} yLabelX={33} yLabelLen={145}
        legend={{ x: 166, top: 1190, w: 292 }} />
      <Panel left={col1} plotTop={plotTops[3]} meas={westSpdMeas} model={westSpdModel} xDomain={[10, 16]} xTicks={xTicksOther}
        yDomain={[4, 10]} yTicks={spdTicksWest} yLabel={spdLabel} yLabelX={46} yLabelLen={143} legend={null} />
    </div>
  );
}
